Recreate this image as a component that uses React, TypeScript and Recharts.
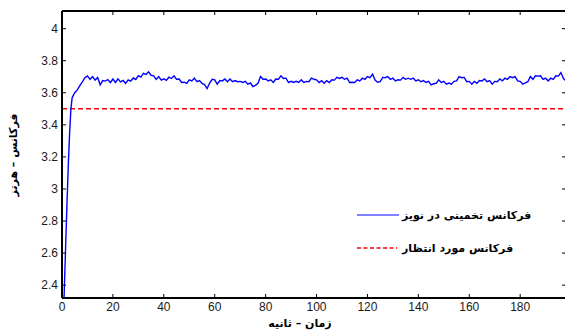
import React from 'react';
import { LineChart, Line, XAxis, YAxis, Legend } from 'recharts';

// time (s) of each sample of the estimated frequency
const time = [
  0, 0.5, 1, 1.5, 2, 2.5, 3, 3.5, 4, 4.5, 5, 6, 7, 8, 9,
  10, 11, 12, 13, 14, 15, 16, 17, 18, 19, 20, 21, 22, 23, 24, 25, 26, 27, 28, 29,
  30, 31, 32, 33, 34, 35, 36, 37, 38, 39, 40, 41, 42, 43, 44, 45, 46, 47, 48, 49,
  50, 51, 52, 53, 54, 55, 56, 57, 58, 59, 60, 61, 62, 63, 64, 65, 66, 67, 68, 69,
  70, 71, 72, 73, 74, 75, 76, 77, 78, 79, 80, 81, 82, 83, 84, 85, 86, 87, 88, 89,
  90, 91, 92, 93, 94, 95, 96, 97, 98, 99, 100, 101, 102, 103, 104, 105, 106, 107, 108, 109,
  110, 111, 112, 113, 114, 115, 116, 117, 118, 119, 120, 121, 122, 123, 124, 125, 126, 127, 128, 129,
  130, 131, 132, 133, 134, 135, 136, 137, 138, 139, 140, 141, 142, 143, 144, 145, 146, 147, 148, 149,
  150, 151, 152, 153, 154, 155, 156, 157, 158, 159, 160, 161, 162, 163, 164, 165, 166, 167, 168, 169,
  170, 171, 172, 173, 174, 175, 176, 177, 178, 179, 180, 181, 182, 183, 184, 185, 186, 187, 188, 189,
  190, 191, 192, 193, 194, 195, 196, 197, 198,
];

// estimated frequency in noise (Hz)
const estimated = [
  1.9, 2.16, 2.42, 2.68, 2.93, 3.16, 3.35, 3.5, 3.57, 3.585, 3.6, 3.618, 3.645, 3.668, 3.694,
  3.705, 3.684, 3.701, 3.679, 3.695, 3.65, 3.676, 3.673, 3.682, 3.664, 3.686, 3.664, 3.687, 3.668, 3.677, 3.659, 3.681, 3.673, 3.692, 3.683,
  3.707, 3.698, 3.721, 3.714, 3.731, 3.709, 3.706, 3.684, 3.701, 3.679, 3.687, 3.678, 3.697, 3.689, 3.706, 3.684, 3.686, 3.664, 3.666, 3.659,
  3.681, 3.674, 3.691, 3.669, 3.676, 3.659, 3.651, 3.626, 3.661, 3.684, 3.681, 3.654, 3.676, 3.674, 3.686, 3.669, 3.686, 3.669, 3.676, 3.669,
  3.671, 3.664, 3.671, 3.654, 3.661, 3.639, 3.646, 3.659, 3.701, 3.684, 3.686, 3.674, 3.681, 3.664, 3.686, 3.684, 3.706, 3.689, 3.691, 3.664,
  3.671, 3.664, 3.671, 3.664, 3.681, 3.664, 3.671, 3.669, 3.691, 3.684, 3.681, 3.664, 3.676, 3.659, 3.676, 3.664, 3.681, 3.679, 3.696, 3.689,
  3.696, 3.684, 3.691, 3.664, 3.666, 3.664, 3.681, 3.674, 3.691, 3.684, 3.701, 3.694, 3.716, 3.679, 3.666, 3.669, 3.696, 3.694, 3.701, 3.684,
  3.691, 3.674, 3.681, 3.679, 3.696, 3.684, 3.691, 3.684, 3.691, 3.674, 3.681, 3.669, 3.676, 3.664, 3.671, 3.649, 3.656, 3.659, 3.681, 3.664,
  3.671, 3.654, 3.661, 3.654, 3.671, 3.674, 3.701, 3.694, 3.696, 3.669, 3.671, 3.654, 3.671, 3.659, 3.676, 3.674, 3.686, 3.669, 3.676, 3.654,
  3.671, 3.669, 3.686, 3.674, 3.691, 3.684, 3.701, 3.694, 3.701, 3.674, 3.671, 3.654, 3.661, 3.669, 3.701, 3.684, 3.706, 3.704, 3.706, 3.684,
  3.691, 3.674, 3.691, 3.684, 3.706, 3.704, 3.726, 3.689, 3.674,
];

// expected frequency (Hz)
const expectedTime = [0, 198];
const expectedValue = [3.5, 3.5];

const xTicks = [0, 20, 40, 60, 80, 100, 120, 140, 160, 180];
const yTicks = [2.4, 2.6, 2.8, 3, 3.2, 3.4, 3.6, 3.8, 4];

const seriesNames = ['فرکانس تخمینی در نویز', 'فرکانس مورد انتظار'];
const xTitle = 'زمان – ثانیه';
const yTitle = 'فرکانس – هرتز';

const estimatedData = time.map((t, i) => ({ t, v: estimated[i] }));
const expectedData = expectedTime.map((t, i) => ({ t, v: expectedValue[i] }));

const tickFont = { fill: '#1a1a1a', fontSize: 12, fontFamily: 'Liberation Sans, Arial, sans-serif' };
const persianFont = '"DejaVu Sans", sans-serif';

const LegendBox = () => (
  <div style={{ fontFamily: persianFont, fontSize: 11, fontWeight: 'bold', color: '#000' }}>
    <div style={{ display: 'flex', alignItems: 'center', height: 20 }}>
      <svg width={45} height={6}>
        <line x1={0} y1={3} x2={42} y2={3} stroke="#0000ff" strokeWidth={1.2} />
      </svg>
      <span dir="rtl">{seriesNames[0]}</span>
    </div>
    <div style={{ display: 'flex', alignItems: 'center', height: 20, marginTop: 13 }}>
      <svg width={45} height={6}>
        <line x1={0} y1={3} x2={40} y2={3} stroke="#ff0000" strokeWidth={1.5} strokeDasharray="4 2.5" />
      </svg>
      <span dir="rtl">{seriesNames[1]}</span>
    </div>
  </div>
);

const App: React.FC = () => {
  return (
    <div style={{ position: 'absolute', left: 0, top: 0, width: 565, height: 333, overflow: 'hidden', background: '#fff' }}>
      <LineChart width={567} height={333} data={estimatedData} margin={{ top: 10, right: 0, bottom: 0, left: 0 }}>
        <XAxis
          xAxisId="b"
          dataKey="t"
          type="number"
          domain={[0, 198]}
          ticks={xTicks}
          allowDataOverflow
          height={35}
          tickSize={-4}
          tickMargin={8}
          axisLine={{ stroke: '#000', strokeWidth: 2 }}
          tickLine={{ stroke: '#000' }}
          tick={tickFont}
        />
        <XAxis
          xAxisId="t"
          orientation="top"
          dataKey="t"
          type="number"
          domain={[0, 198]}
          ticks={xTicks}
          allowDataOverflow
          height={1}
          tickSize={-4}
          tickFormatter={() => ''}
          axisLine={{ stroke: '#000', strokeWidth: 2 }}
          tickLine={{ stroke: '#000' }}
        />
        <YAxis
          yAxisId="l"
          type="number"
          domain={[2.32, 4.11]}
          ticks={yTicks}
          allowDataOverflow
          width={62}
          tickSize={-4}
          tickMargin={8}
          axisLine={{ stroke: '#000', strokeWidth: 2 }}
          tickLine={{ stroke: '#000' }}
          tick={tickFont}
        />
        <YAxis
          yAxisId="r"
          orientation="right"
          type="number"
          domain={[2.32, 4.11]}
          ticks={yTicks}
          allowDataOverflow
          width={1}
          tickSize={-4}
          tickFormatter={() => ''}
          axisLine={{ stroke: '#000', strokeWidth: 2 }}
          tickLine={{ stroke: '#000' }}
        />
        <Legend
          layout="horizontal"
          verticalAlign="middle"
          align="center"
          content={<LegendBox />}
          wrapperStyle={{ left: 357, top: 205, width: 'auto', height: 'auto' }}
        />
        <Line
          xAxisId="b"
          yAxisId="l"
          data={expectedData}
          dataKey="v"
          name={seriesNames[1]}
          stroke="#ff0000"
          strokeWidth={1.5}
          strokeDasharray="5 3"
          dot={false}
          isAnimationActive={false}
        />
        <Line
          xAxisId="b"
          yAxisId="l"
          dataKey="v"
          name={seriesNames[0]}
          stroke="#0000ff"
          strokeWidth={1.4}
          dot={false}
          isAnimationActive={false}
        />
      </LineChart>
      <div
        dir="rtl"
        style={{
          position: 'absolute', left: 300, top: 323, transform: 'translate(-50%, -50%)',
          fontFamily: persianFont, fontSize: 11, fontWeight: 'bold', whiteSpace: 'nowrap',
        }}
      >
        {xTitle}
      </div>
      <div
        dir="rtl"
        style={{
          position: 'absolute', left: 13, top: 155, transform: 'translate(-50%, -50%) rotate(-90deg)',
          fontFamily: persianFont, fontSize: 11, fontWeight: 'bold', whiteSpace: 'nowrap',
        }}
      >
        {yTitle}
      </div>
    </div>
  );
};

export default App;
